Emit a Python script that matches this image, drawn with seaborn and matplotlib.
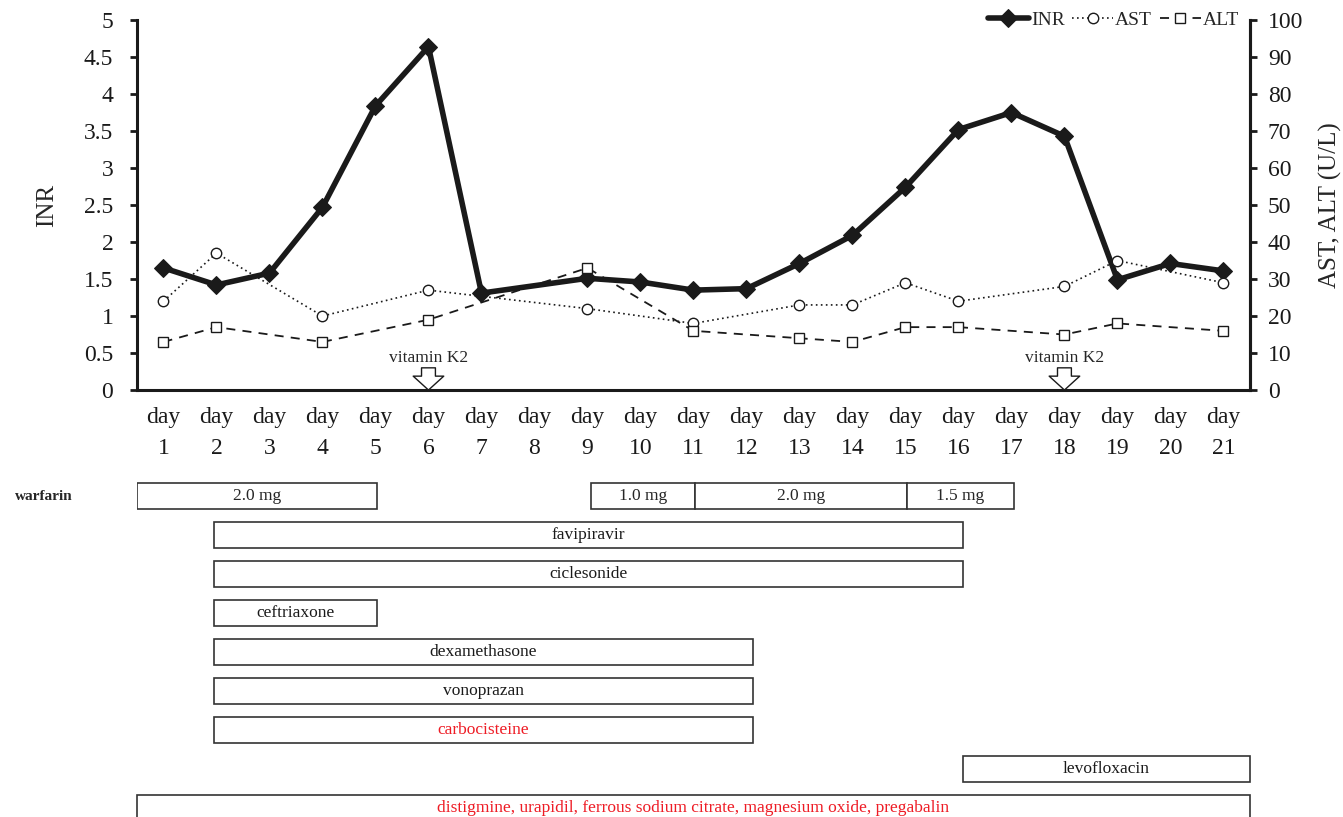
import numpy as np
import pandas as pd
import seaborn as sns
import matplotlib.pyplot as plt

sns.set_theme(style='white')
plt.rcParams['font.family'] = ['Liberation Serif', 'DejaVu Serif']

nan = np.nan
days = list(range(1, 22))
inr = [1.65, 1.42, 1.58, 2.47, 3.84, 4.64, 1.31, nan, 1.51, 1.46, 1.35,
       1.37, 1.71, 2.09, 2.74, 3.52, 3.75, 3.43, 1.49, 1.71, 1.61]
ast = [24, 37, nan, 20, nan, 27, nan, nan, 22, nan, 18,
       nan, 23, 23, 29, 24, nan, 28, 35, nan, 29]
alt = [13, 17, nan, 13, nan, 19, nan, nan, 33, nan, 16,
       nan, 14, 13, 17, 17, nan, 15, 18, nan, 16]
vitk_days = [6, 18]

# medication timeline (start/end in day units)
warf_dose = ['2.0 mg', '1.0 mg', '2.0 mg', '1.5 mg']
warf_start = [0.5, 9.06, 11.03, 15.02]
warf_end = [5.03, 11.03, 15.02, 17.05]
drugs = ['favipiravir', 'ciclesonide', 'ceftriaxone', 'dexamethasone', 'vonoprazan',
         'carbocisteine', 'levofloxacin',
         'distigmine, urapidil, ferrous sodium citrate, magnesium oxide, pregabalin']
drug_start = [1.95, 1.95, 1.95, 1.95, 1.95, 1.95, 16.08, 0.5]
drug_end = [16.08, 16.08, 5.03, 12.13, 12.13, 12.13, 21.5, 21.5]
drug_red = [False, False, False, False, False, True, False, True]

df = pd.DataFrame({'day': days, 'INR': inr, 'AST': ast, 'ALT': alt})
ink = '#1a1a1a'

fig = plt.figure(figsize=(13.43, 8.17), dpi=100)
ax = fig.add_axes([0.102, 0.5226, 0.8287, 0.4529])
ax2 = ax.twinx()

sns.lineplot(data=df.dropna(subset=['INR']), x='day', y='INR', ax=ax, color=ink,
             lw=4, marker='D', markersize=9, markeredgecolor=ink, label='INR', legend=False)
sns.lineplot(data=df.dropna(subset=['AST']), x='day', y='AST', ax=ax2, color=ink,
             lw=1.2, linestyle=(0, (1, 2)), marker='o', markersize=7.5, markerfacecolor='white',
             markeredgecolor=ink, markeredgewidth=1, label='AST', legend=False)
sns.lineplot(data=df.dropna(subset=['ALT']), x='day', y='ALT', ax=ax2, color=ink,
             lw=1.3, linestyle=(0, (5, 4)), marker='s', markersize=7.5, markerfacecolor='white',
             markeredgecolor=ink, markeredgewidth=1, label='ALT', legend=False)
# centre dot of the AST circles
sns.scatterplot(data=df.dropna(subset=['AST']), x='day', y='AST', ax=ax2, color=ink,
                s=3, linewidth=0, legend=False)

ax.set_xlim(0.5, 21.5)
ax.set_ylim(0, 5)
ax2.set_ylim(0, 100)
ax.set_yticks(np.arange(0, 5.01, 0.5))
ax.set_yticklabels(['0', '0.5', '1', '1.5', '2', '2.5', '3', '3.5', '4', '4.5', '5'])
ax2.set_yticks(range(0, 101, 10))
ax.set_xticks(days)
ax.set_xticklabels([f'day\n{d}' for d in days], linespacing=1.65)
ax.set_xlabel('')
ax2.set_xlabel('')
ax.set_ylabel('INR', fontsize=18)
ax2.set_ylabel('AST, ALT (U/L)', fontsize=18)
ax.yaxis.set_label_coords(-0.071, 0.5)
ax2.yaxis.set_label_coords(1.062, 0.5)

for a in (ax, ax2):
    for s in a.spines.values():
        s.set_linewidth(2.2)
        s.set_color(ink)
    a.spines['top'].set_visible(False)
    a.tick_params(axis='both', labelsize=17, colors=ink, width=2, length=5,
                  direction='out')
ax.tick_params(axis='x', pad=7)
ax.tick_params(axis='y', pad=12)
ax2.tick_params(axis='y', pad=8)
ax2.spines['left'].set_visible(False)
ax2.spines['bottom'].set_visible(False)

for d in vitk_days:
    ax.text(d, 0.43, 'vitamin K2', ha='center', va='center', fontsize=12.5)
    ax.annotate('', xy=(d, 0.0), xytext=(d, 0.3),
                arrowprops=dict(arrowstyle='simple,head_length=0.5,head_width=1.1,tail_width=0.5',
                                fc='white', ec=ink, lw=1, shrinkA=0, shrinkB=0,
                                mutation_scale=20))

handles = [ax.lines[0], ax2.lines[0], ax2.lines[1]]
ax2.legend(handles, ['INR', 'AST', 'ALT'], loc='upper right', ncol=3, frameon=False,
           bbox_to_anchor=(0.997, 1.045), fontsize=14, handlelength=2.1,
           handletextpad=0.1, columnspacing=0.4, borderaxespad=0)

# timeline panel
axb = fig.add_axes([0.102, 0.0, 0.8287, 347 / 817])
axb.set_xlim(0.5, 21.5)
axb.set_ylim(8.23, -0.667)
axb.axis('off')

h = 0.667
axb.barh([0] * len(warf_dose), np.array(warf_end) - np.array(warf_start), left=warf_start,
         height=h, color='white', edgecolor='#333333', linewidth=1.2)
for lab, s, e in zip(warf_dose, warf_start, warf_end):
    axb.text((s + e) / 2, 0, lab, ha='center', va='center', fontsize=12.5)

rows = np.arange(1, len(drugs) + 1)
axb.barh(rows, np.array(drug_end) - np.array(drug_start), left=drug_start,
         height=h, color='white', edgecolor='#333333', linewidth=1.2, clip_on=False)
for r, lab, s, e, red in zip(rows, drugs, drug_start, drug_end, drug_red):
    axb.text((s + e) / 2, r, lab, ha='center', va='center', fontsize=12.5,
             color='#ee1c25' if red else ink)

fig.text(15 / 1343, 1 - 496 / 817, 'warfarin', ha='left', va='center', fontsize=11,
         fontweight='bold')

fig.savefig('out.png', dpi=100)
